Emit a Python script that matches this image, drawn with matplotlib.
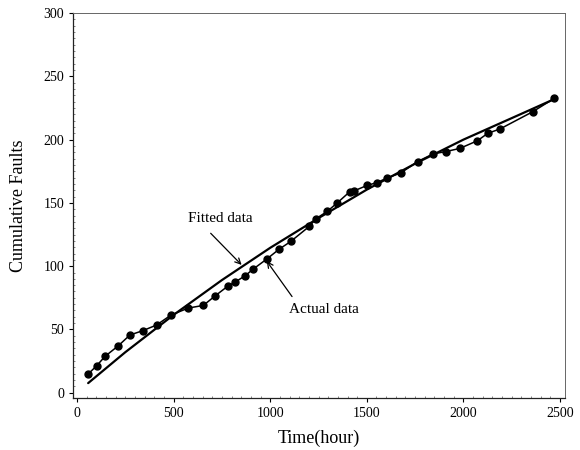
import matplotlib
matplotlib.use("Agg")
import matplotlib.pyplot as plt
from matplotlib.ticker import MultipleLocator

plt.rcParams['font.family'] = ['Liberation Serif', 'DejaVu Serif']

# Actual data (time in hours, cumulative faults)
actual_time = [58, 102, 145, 214, 274, 340, 412, 487, 576, 654, 714, 783, 818, 870,
               913, 982, 1047, 1106, 1202, 1237, 1296, 1347, 1413, 1434, 1503, 1554,
               1603, 1675, 1763, 1844, 1908, 1982, 2072, 2126, 2189, 2358, 2470]
actual_faults = [14.8, 21.3, 28.7, 37.1, 45.6, 49.0, 53.5, 61.4, 66.9, 69.0, 76.4,
                 84.5, 87.4, 92.4, 97.8, 105.6, 113.5, 119.5, 131.4, 137.5, 143.4,
                 150.0, 159.0, 159.5, 163.9, 166.1, 169.6, 173.6, 182.7, 188.8, 190.5,
                 193.1, 199.1, 205.0, 208.4, 222.0, 232.6]

# Fitted curve
fitted_time = [58, 250, 500, 750, 1000, 1250, 1500, 1750, 2000, 2250, 2470]
fitted_faults = [7.6, 32.0, 61.5, 89.0, 114.5, 138.0, 160.5, 181.0, 200.0, 217.0, 232.0]

x_ticks = [0, 500, 1000, 1500, 2000, 2500]
y_ticks = [0, 50, 100, 150, 200, 250, 300]

fig = plt.figure(figsize=(5.8, 4.5), dpi=100)
ax = fig.add_axes([0.126, 0.116, 0.848, 0.855])

ax.plot(fitted_time, fitted_faults, color='black', linewidth=1.6, solid_capstyle='round')
ax.plot(actual_time, actual_faults, color='black', linewidth=1.1, marker='o',
        markersize=5, markerfacecolor='black', markeredgecolor='black')

ax.set_xlim(-20, 2525)
ax.set_ylim(-4, 300)
ax.set_xticks(x_ticks)
ax.set_yticks(y_ticks)
ax.xaxis.set_minor_locator(MultipleLocator(50))
ax.yaxis.set_minor_locator(MultipleLocator(5))
ax.tick_params(axis='both', which='major', direction='out', length=3, width=0.8,
               labelsize=10, colors='black')
ax.tick_params(axis='both', which='minor', direction='in', length=1.5, width=0.5,
               colors='#555555')
ax.tick_params(top=False, right=False, which='both')

for side in ['left', 'bottom']:
    ax.spines[side].set_color('#222222')
    ax.spines[side].set_linewidth(0.9)
for side in ['top', 'right']:
    ax.spines[side].set_color('#666666')
    ax.spines[side].set_linewidth(0.7)

ax.set_xlabel('Time(hour)', fontsize=13, labelpad=7)
ax.set_ylabel('Cumulative Faults', fontsize=13, labelpad=12)

ax.text(740, 137.5, 'Fitted data', fontsize=11, ha='center', va='center')
ax.annotate('', xy=(852, 101), xytext=(692, 126),
            arrowprops=dict(arrowstyle='->', color='black', lw=0.9,
                            shrinkA=0, shrinkB=0))
ax.text(1278, 66, 'Actual data', fontsize=11, ha='center', va='center')
ax.annotate('', xy=(982, 104), xytext=(1113, 76),
            arrowprops=dict(arrowstyle='->', color='black', lw=0.9,
                            shrinkA=0, shrinkB=0))

fig.savefig('out.png', dpi=100)
